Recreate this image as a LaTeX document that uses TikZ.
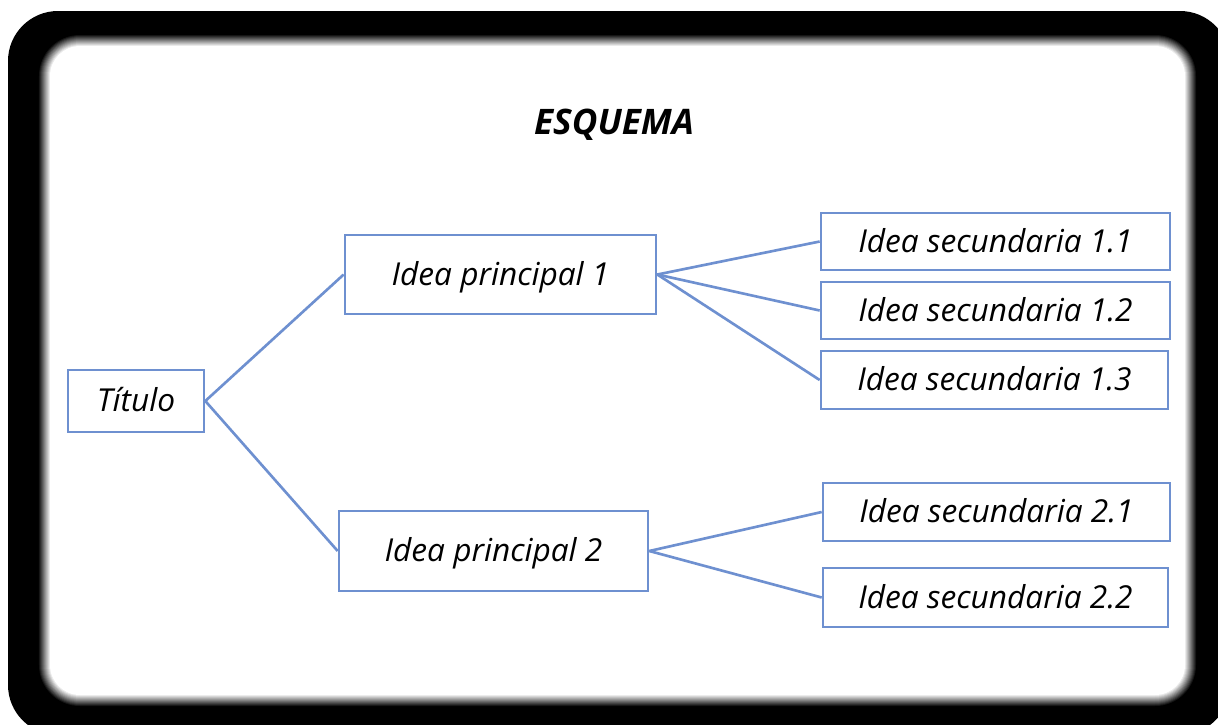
\documentclass[tikz,border=0pt]{standalone}
\usepackage{fontspec}
\setmainfont{Open Sans}
\usetikzlibrary{positioning}
\definecolor{boxblue}{RGB}{110,144,208}
\tikzset{
  ideabox/.style={draw=boxblue, line width=1.5pt, fill=white, inner sep=0pt,
    text height=1.25em, text depth=0em,
    font=\itshape\fontsize{18}{21}\selectfont},
  branch/.style={draw=boxblue, line width=1.5pt}
}

\begin{document}
\begin{tikzpicture}
\useasboundingbox (0,0) rectangle (24.36,-14.48);
% frame with soft inner edge
\fill[black, rounded corners=1cm] (0.16,-0.22) rectangle (24.6,-14.7);
\foreach \i in {0,...,12}{
  \pgfmathsetmacro{\d}{(12-\i)*0.02}
  \pgfmathsetmacro{\g}{100-\i*100/12}
  \fill[black!\g, rounded corners={(0.6+\d)*1cm}]
    ({1.0-\d},{-0.92+\d}) rectangle ({23.7+\d},{-13.9-\d});
}
\node[font=\bfseries\itshape\fontsize{20}{24}\selectfont] (heading) at (12.28,-2.5) {ESQUEMA};
% boxes
\node[ideabox, minimum width=2.72cm, minimum height=1.24cm] (titulo) at (2.72,-8.02) {Título};
\node[ideabox, minimum width=6.22cm, minimum height=1.58cm] (ideaA) at (10.01,-5.49) {Idea principal 1};
\node[ideabox, minimum width=6.18cm, minimum height=1.6cm] (ideaB) at (9.87,-11.02) {Idea principal 2};
\node[ideabox, minimum width=6.98cm, minimum height=1.14cm] (secA1) at (19.91,-4.83) {Idea secundaria 1.1};
\node[ideabox, minimum width=6.98cm, minimum height=1.14cm] (secA2) at (19.91,-6.21) {Idea secundaria 1.2};
\node[ideabox, minimum width=6.94cm, minimum height=1.16cm] (secA3) at (19.89,-7.60) {Idea secundaria 1.3};
\node[ideabox, minimum width=6.94cm, minimum height=1.16cm] (secB1) at (19.93,-10.24) {Idea secundaria 2.1};
\node[ideabox, minimum width=6.90cm, minimum height=1.18cm] (secB2) at (19.91,-11.95) {Idea secundaria 2.2};
% connectors
\draw[branch] (titulo.east) -- (ideaA.west);
\draw[branch] (titulo.east) -- (ideaB.west);
\foreach \s in {secA1,secA2,secA3}
  \draw[branch] (ideaA.east) -- (\s.west);
\foreach \s in {secB1,secB2}
  \draw[branch] (ideaB.east) -- (\s.west);
\end{tikzpicture}
\end{document}
